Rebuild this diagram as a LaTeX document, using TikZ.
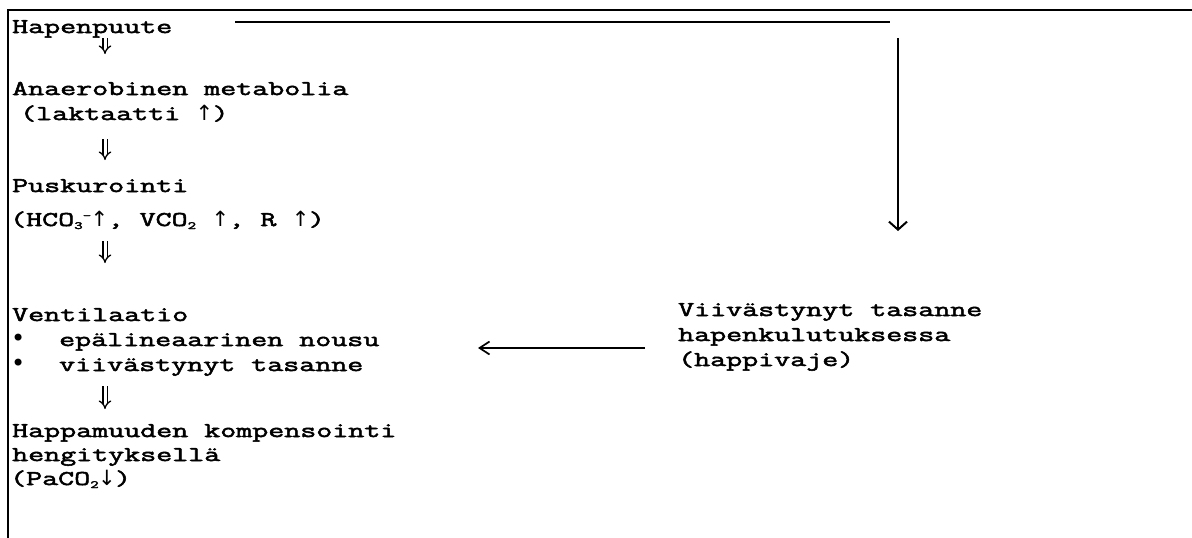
\documentclass[tikz,border=0pt]{standalone}
\usepackage{fontspec}
\usetikzlibrary{arrows.meta}
\newfontfamily\cour[FakeStretch=1.48,FakeBold=2.5]{Latin Modern Mono}
\newfontfamily\arrf{DejaVu Sans}
\newcommand\lowi[1]{\raisebox{-3pt}{\fontsize{11}{11}\selectfont #1}}
\newcommand\upi[1]{\raisebox{7pt}{\fontsize{11}{11}\selectfont #1}}
\newcommand\uarr{\makebox[16.3pt]{\arrf\fontsize{21}{21}\selectfont ↑}}
\newcommand\darr{\makebox[16.3pt]{\arrf\fontsize{21}{21}\selectfont ↓}}
\newcommand\bul{\makebox[51pt][l]{\kern3pt\arrf\fontsize{24}{24}\selectfont •}}
\begin{document}
\begin{tikzpicture}[x=1pt,y=-1pt,
  txt/.style={anchor=base west, inner sep=0pt, font=\cour\fontsize{21}{25}\selectfont},
  frameline/.style={line width=2pt},
  dbl/.style={double, double distance=3pt, line width=1.3pt, -{Implies}},
  arrd/.style={line width=2pt, -{Straight Barb[length=8pt,width=18pt]}},
  arrl/.style={line width=1.7pt, -{Straight Barb[length=10pt,width=13pt]}}]
\useasboundingbox (0,0) rectangle (1192,538);
\fill[white] (0,0) rectangle (1192,538);
\draw[frameline] (1192,10) -- (8,10) -- (8,538);

% left column
\node[txt] (h1) at (12,33) {Hapenpuute};
\node[txt] (h2) at (12,95) {Anaerobinen metabolia};
\node[txt] (h3) at (20,120) {(laktaatti \uarr)};
\node[txt] (h4) at (12,192) {Puskurointi};
\node[txt] (h5) at (10,226) {(HCO\lowi{3}\upi{-}\uarr, VCO\lowi{2}~\uarr, R~\uarr)};
\node[txt] (h6) at (12,321) {Ventilaatio};
\node[txt] (h7) at (8,346) {\bul epälineaarinen nousu};
\node[txt] (h8) at (8,371) {\bul viivästynyt tasanne};
\node[txt] (h9) at (12,437) {Happamuuden kompensointi};
\node[txt] (h10) at (12,461) {hengityksellä};
\node[txt] (h11) at (10,485) {(PaCO\lowi{2}\darr)};

% right column
\node[txt] (r1) at (678,316) {Viivästynyt tasanne};
\node[txt] (r2) at (678,341) {hapenkulutuksessa};
\node[txt] (r3) at (678,366) {(happivaje)};

% double down arrows
\coordinate (d1t) at (105,38);  \coordinate (d1b) at (105,54);
\coordinate (d2t) at (105,139); \coordinate (d2b) at (105,160);
\coordinate (d3t) at (105,241); \coordinate (d3b) at (105,263);
\coordinate (d4t) at (105,386); \coordinate (d4b) at (105,409);
\draw[dbl] (d1t) -- (d1b);
\draw[dbl] (d2t) -- (d2b);
\draw[dbl] (d3t) -- (d3b);
\draw[dbl] (d4t) -- (d4b);

% feedback line
\coordinate (hl) at (235,21.5);
\coordinate (hr) at (890,21.5);
\draw[line width=2pt] (hl) -- (hr);
\coordinate (vt) at (898,38);
\coordinate (vb) at (898,231);
\draw[arrd] (vt) -- (vb);

% left arrow
\coordinate (as) at (645,348);
\coordinate (ae) at (478,348);
\draw[arrl] (as) -- (ae);
\end{tikzpicture}
\end{document}
